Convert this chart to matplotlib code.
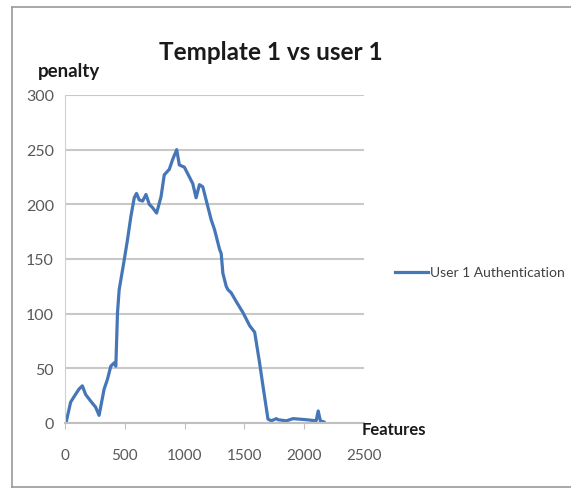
import matplotlib
matplotlib.use('Agg')
import matplotlib.pyplot as plt
import matplotlib.lines as mlines

# values
features = [0, 10, 47, 75, 117, 145, 173, 215, 256, 285, 327, 355, 383, 411, 425,
            439, 453, 495, 523, 551, 579, 598, 621, 649, 677, 705, 732, 766, 803,
            830, 872, 900, 934, 956, 998, 1026, 1068, 1096, 1124, 1152, 1194, 1222,
            1250, 1264, 1292, 1306, 1320, 1348, 1362, 1390, 1432, 1488, 1544, 1586,
            1627, 1655, 1697, 1725, 1767, 1780, 1851, 1907, 2019, 2100, 2117, 2135,
            2164]
penalty = [0, 1, 19, 24, 31, 34, 26, 20, 14.5, 7, 31, 40, 52, 55, 52,
           101, 122, 149, 168, 189, 206, 210, 204, 203, 209, 200, 197, 192, 207,
           227, 232, 241, 250, 236, 234, 228, 219, 206, 218, 216, 198, 186,
           177, 171, 159, 155, 137, 125, 122, 119, 111, 101, 89, 83,
           55, 34, 3.6, 2, 4, 3, 2, 4, 3, 2, 11, 2, 1]

x_ticks = [0, 500, 1000, 1500, 2000, 2500]
y_ticks = [0, 50, 100, 150, 200, 250, 300]

TITLE = 'Template 1 vs user 1'
SERIES = 'User 1 Authentication'
FONT = ['Lato', 'DejaVu Sans']
LINE_COLOR = '#4577b8'
GRID_COLOR = '#c8c8c8'
TICK_COLOR = '#595959'

W, H = 571, 489
fig = plt.figure(figsize=(W / 100, H / 100), dpi=100)
fig.patch.set_facecolor('white')


def fx(px):
    return px / W


def fy(py):
    return 1 - py / H


# outer chart border (left, top, bottom visible)
border = dict(color='#9a9a9a', linewidth=1.2, transform=fig.transFigure)
fig.add_artist(mlines.Line2D([fx(12), fx(12)], [fy(8), fy(488)], **border))
fig.add_artist(mlines.Line2D([fx(12), 1], [fy(8), fy(8)], **border))
fig.add_artist(mlines.Line2D([fx(12), 1], [fy(488), fy(488)], **border))

ax = fig.add_axes([fx(65), fy(424), fx(364) - fx(65), fy(96) - fy(424)])
ax.plot(features, penalty, color=LINE_COLOR, linewidth=2.3,
        solid_joinstyle='round')

ax.set_xlim(0, 2500)
ax.set_ylim(0, 300)
ax.set_xticks(x_ticks)
ax.set_yticks(y_ticks)
ax.set_xticklabels([str(v) for v in x_ticks])
ax.set_yticklabels([str(v) for v in y_ticks])
ax.yaxis.grid(True, color=GRID_COLOR, linewidth=1.5)
ax.set_axisbelow(True)

for s in ['top', 'right']:
    ax.spines[s].set_visible(False)
ax.spines['left'].set_color('#d0d0d0')
ax.spines['bottom'].set_color('#c0c0c0')
ax.spines['bottom'].set_linewidth(1.5)
ax.tick_params(axis='x', length=4, color='#c0c0c0', pad=14,
               labelsize=11, labelcolor=TICK_COLOR)
ax.tick_params(axis='y', length=0, pad=8, labelsize=11.5, labelcolor=TICK_COLOR)
for lab in ax.get_xticklabels() + ax.get_yticklabels():
    lab.set_family(FONT)

fig.text(fx(271), fy(52), TITLE, ha='center', va='center', fontsize=17.5,
         fontweight='bold', family=FONT, color='#1a1a1a')
fig.text(fx(38), fy(72), 'penalty', ha='left', va='center', fontsize=13.5,
         fontweight='bold', family=FONT, color='#1a1a1a')
fig.text(fx(362), fy(430), 'Features', ha='left', va='center', fontsize=12,
         fontweight='bold', family=FONT, color='#1a1a1a')

# legend
fig.add_artist(mlines.Line2D([fx(395), fx(428)], [fy(273), fy(273)],
                             color=LINE_COLOR, linewidth=2.3,
                             transform=fig.transFigure))
fig.text(fx(430), fy(273), SERIES, ha='left', va='center', fontsize=10,
         family=FONT, color='#404040')

fig.savefig('out.png', dpi=100)
